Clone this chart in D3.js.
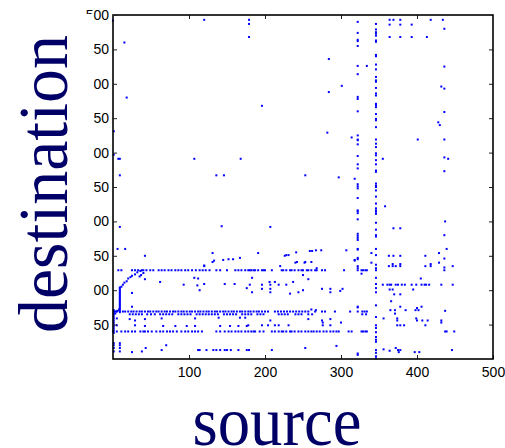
<!DOCTYPE html>
<html>
<head>
<meta charset="utf-8">
<script src="https://cdn.jsdelivr.net/npm/d3@7"></script>
<style>
    body { margin: 0; background: #fff; }
</style>
</head>
<body>
<script>
// Spy plot of a sparse source/destination matrix (MATLAB look).
// Values, in data units.

var xTicks = [100, 200, 300, 400, 500];
var yTicks = [50, 100, 150, 200, 250, 300, 350, 400, 450, 500];

// dense horizontal runs: one destination, many sources
var rowA = {y: 129, xs: [7, 11, 25, 29, 33, 38, 40, 44, 49, 53, 60, 64, 68, 73,
    77, 82, 86, 90, 95, 99, 104, 109, 114, 118, 122, 127, 136, 141, 150, 161,
    165, 169, 174, 178, 180, 182, 185, 187, 191, 196, 198, 200, 209, 222, 224,
    228, 233, 235, 239, 244, 248, 250, 255, 257, 261, 266, 268, 275, 279, 304,
    327, 329, 332, 334]};
var rowB = {y: 69, xs: [2, 5, 13, 16, 20, 24, 27, 31, 35, 38, 42, 46, 49, 53,
    57, 60, 64, 68, 71, 75, 79, 82, 86, 90, 93, 97, 101, 104, 108, 112, 115,
    119, 123, 126, 130, 134, 137, 141, 145, 148, 152, 156, 159, 163, 167, 170,
    174, 178, 181, 185, 189, 192, 196, 200, 204, 213, 217, 221, 225, 229, 233,
    237, 241, 245, 249, 253, 257, 266, 275, 279, 292, 312, 322, 328, 331, 334]};
var rowB2 = {y: 65, xs: [22, 26, 30, 34, 38, 45, 50, 55, 62, 66, 70, 74, 78,
    86, 90, 94, 98, 102, 110, 114, 118, 122, 126, 130, 134, 138, 146, 150, 154,
    158, 162, 170, 174, 178, 182, 190, 194, 198, 218, 222, 226, 230, 240, 244,
    248, 257, 262, 328, 333]};
var rowC = {y: 40, xs: [0, 5, 11, 16, 20, 25, 29, 36, 40, 42, 46, 51, 57, 62,
    66, 71, 75, 79, 84, 90, 95, 99, 104, 108, 112, 117, 136, 141, 147, 152, 156,
    161, 165, 169, 174, 178, 182, 185, 187, 193, 198, 209, 213, 218, 222, 224,
    228, 233, 235, 239, 244, 248, 253, 257, 261, 264, 268, 272, 277, 281, 286,
    290, 294, 297, 310, 314, 327, 329, 332, 334, 437, 439, 449]};
var rowD = {y: 108, xs: [355, 361, 364, 366, 372, 375, 380, 384, 393, 399, 406,
    410, 412, 416, 432, 447]};

// dense vertical runs: one source, many destinations
var col322 = {x: 322, ys: [490, 474, 464, 462, 455, 426, 414, 381, 378, 360,
    325, 319, 318, 312, 295, 283, 277, 254, 251, 248, 234, 216, 215, 212, 203,
    182, 179, 176, 173, 160, 159, 147, 145, 135, 132, 129, 76, 75, 8, 6]};
var col346 = {x: 346, ys: [487, 479, 475, 473, 470, 463, 461, 442, 440, 428,
    421, 410, 405, 403, 394, 386, 383, 371, 369, 366, 356, 349, 347, 337, 319,
    313, 308, 299, 296, 289, 283, 274, 272, 255, 252, 250, 245, 236, 226, 219,
    216, 214, 211, 198, 188, 180, 178, 160, 151, 137, 132, 129, 118, 109, 103,
    97, 78, 61, 49, 45, 39, 32, 28, 25, 13, 9, 4, 1]};
var col9 = {x: 9, ys: [68, 70, 72, 74, 76, 78, 80, 82, 84, 86, 88, 90, 92, 94,
    96, 98, 100, 102, 104, 11, 16, 20, 23]};
var col1 = {x: 1, ys: [38, 41, 44, 47, 50, 53, 56, 59, 62, 65, 68, 71, 11, 16,
    20, 23]};

// loose entries [source, destination]
var scatter = [
    [0, 492], [120, 493], [179, 493], [179, 487], [179, 468], [364, 493],
    [369, 493], [378, 493], [418, 493], [434, 493], [364, 486], [378, 486],
    [393, 486], [436, 480], [364, 468], [378, 468], [393, 468], [413, 468],
    [15, 460], [284, 436], [334, 426], [436, 425], [301, 397], [284, 388],
    [432, 396], [436, 393], [18, 380], [196, 368], [436, 359], [428, 344],
    [430, 340], [1, 331], [282, 329], [314, 322], [401, 319], [436, 319],
    [1, 297], [7, 291], [9, 291], [107, 291], [168, 291], [355, 291],
    [436, 293], [441, 291], [436, 273], [9, 267], [136, 267], [146, 267],
    [253, 267], [297, 264], [318, 262], [358, 222], [437, 200], [143, 193],
    [207, 192], [9, 192], [369, 190], [378, 190], [436, 180], [6, 160],
    [16, 160], [439, 160], [307, 158], [340, 154], [42, 150], [131, 154],
    [191, 154], [228, 151], [231, 151], [241, 155], [259, 157], [262, 157],
    [267, 158], [274, 158], [318, 143], [363, 150], [369, 150], [378, 150],
    [411, 150], [429, 154], [436, 146], [131, 141], [145, 144], [152, 145],
    [158, 145], [167, 147], [120, 135], [133, 143], [220, 135], [242, 141],
    [253, 141], [261, 141], [268, 132], [226, 150], [240, 140], [252, 140],
    [318, 144], [340, 140], [363, 135], [368, 138], [368, 135], [372, 135],
    [378, 138], [378, 135], [411, 135], [418, 138], [418, 135], [429, 140],
    [436, 133], [436, 129], [447, 135],
    [120, 136], [107, 118], [111, 107], [62, 112], [93, 108], [42, 116],
    [35, 120], [37, 122], [40, 125], [25, 96], [112, 117], [114, 100],
    [120, 109], [147, 109], [160, 109], [176, 103], [25, 76], [183, 118],
    [180, 108], [196, 108], [207, 108], [218, 108], [228, 108], [196, 102],
    [207, 102], [207, 97], [206, 112], [213, 112], [237, 112], [250, 122],
    [257, 116], [183, 97], [233, 95], [244, 97], [250, 100], [275, 102],
    [286, 102], [286, 97], [299, 99], [302, 102], [327, 124], [261, 72],
    [267, 71],
    [11, 105], [13, 108], [15, 111], [18, 113], [20, 117], [23, 119],
    [25, 121], [29, 123], [32, 126], [36, 128],
    [364, 101], [368, 101], [395, 101], [370, 94], [378, 94], [405, 117],
    [366, 84], [378, 76], [406, 76], [400, 74], [365, 71], [371, 71],
    [385, 71], [398, 71], [402, 71], [371, 66], [437, 70], [356, 59],
    [374, 59], [374, 56], [399, 59], [400, 56], [407, 56], [414, 56],
    [432, 56], [432, 53], [374, 49], [378, 49], [383, 49], [411, 49],
    [356, 14], [364, 12], [372, 16], [375, 13], [378, 13], [376, 10],
    [397, 10], [403, 10], [446, 13],
    [22, 58], [29, 56], [42, 58], [64, 59], [108, 59], [139, 60], [167, 60],
    [174, 60], [29, 49], [42, 48], [66, 48], [82, 48], [97, 48], [108, 48],
    [141, 48], [154, 48], [165, 48], [176, 48], [207, 56], [257, 58],
    [275, 56], [276, 53], [286, 58], [300, 53], [178, 49], [196, 49],
    [204, 49], [213, 49], [218, 49], [231, 49], [276, 49], [286, 49],
    [3, 66], [4, 69], [6, 70], [8, 72], [5, 59], [5, 49],
    [294, 19], [253, 16], [114, 13], [123, 13], [136, 13], [147, 13],
    [155, 13], [179, 13], [209, 13], [25, 10], [38, 11], [43, 16], [70, 20],
    [64, 13], [112, 13], [132, 13], [141, 13], [150, 13], [165, 13], [176, 13]
];

// gather everything into one list of entries
var points = [];
[rowA, rowB, rowB2, rowC, rowD].forEach(function(r) {
    r.xs.forEach(function(x) { points.push({x: x, y: r.y}); });
});
[col322, col346, col9, col1].forEach(function(c) {
    c.ys.forEach(function(y) { points.push({x: c.x, y: y}); });
});
scatter.forEach(function(p) { points.push({x: p[0], y: p[1]}); });

var margin = {top: 15, right: 12, bottom: 89, left: 113},
    width = 505 - margin.left - margin.right,
    height = 448 - margin.top - margin.bottom;

var svg = d3.select("body").append("svg")
    .attr("width", 505)
    .attr("height", 448);

var xScale = d3.scaleLinear().domain([0, 500]).range([0, width]);
var yScale = d3.scaleLinear().domain([0, 500]).range([height, 0]);

// the big label covers the hundreds digit of the y labels
var clip = svg.append("clipPath").attr("id", "ylab")
    .attr("clipPathUnits", "userSpaceOnUse");
clip.append("rect").attr("x", 93.5).attr("y", 0)
    .attr("width", 420).attr("height", 448);
clip.append("rect").attr("x", 0).attr("y", 0)
    .attr("width", 505).attr("height", 14);

var g = svg.append("g")
    .attr("transform", "translate(" + margin.left + "," + margin.top + ")");

// the entries
g.append("g").selectAll("rect")
    .data(points)
    .enter()
    .append("rect")
    .attr("x", function(d) { return xScale(d.x) - 1; })
    .attr("y", function(d) { return yScale(d.y) - 1; })
    .attr("width", 2)
    .attr("height", 2)
    .attr("fill", "#0000ff");

// axes, MATLAB style: ticks inward on all four sides
function styleAxis(sel) {
    sel.select(".domain").remove();
    sel.selectAll(".tick line").attr("stroke", "#222");
    sel.selectAll("text")
        .attr("font-family", "Liberation Sans, Arial, sans-serif")
        .attr("font-size", "14px")
        .attr("fill", "#000");
}

g.append("g")
    .attr("transform", "translate(0," + height + ")")
    .call(d3.axisBottom(xScale).tickValues(xTicks)
        .tickSizeInner(-4).tickSizeOuter(0).tickPadding(8))
    .call(styleAxis);

g.append("g")
    .call(d3.axisTop(xScale).tickValues(xTicks.slice(0, 4))
        .tickSizeInner(-4).tickSizeOuter(0).tickFormat(""))
    .call(styleAxis);

svg.append("g")
    .attr("clip-path", "url(#ylab)")
    .append("g")
    .attr("transform", "translate(" + margin.left + "," + margin.top + ")")
    .call(d3.axisLeft(yScale).tickValues(yTicks)
        .tickSizeInner(-4).tickSizeOuter(0).tickPadding(4))
    .call(styleAxis);

g.append("g")
    .attr("transform", "translate(" + width + ",0)")
    .call(d3.axisRight(yScale).tickValues(yTicks.slice(0, 9))
        .tickSizeInner(-4).tickSizeOuter(0).tickFormat(""))
    .call(styleAxis);

// box
g.append("rect")
    .attr("width", width)
    .attr("height", height)
    .attr("fill", "none")
    .attr("stroke", "#000")
    .attr("stroke-width", 1.6);

// axis titles
svg.append("text")
    .text("source")
    .attr("x", 277)
    .attr("y", 445)
    .attr("text-anchor", "middle")
    .attr("textLength", 169)
    .attr("lengthAdjust", "spacingAndGlyphs")
    .attr("font-family", "Liberation Serif, Times New Roman, serif")
    .attr("font-size", "70px")
    .attr("fill", "#000066");

svg.append("text")
    .text("destination")
    .attr("transform", "translate(67,184) rotate(-90)")
    .attr("text-anchor", "middle")
    .attr("textLength", 298)
    .attr("lengthAdjust", "spacingAndGlyphs")
    .attr("font-family", "Liberation Serif, Times New Roman, serif")
    .attr("font-size", "70px")
    .attr("fill", "#000066");
</script>
</body>
</html>
